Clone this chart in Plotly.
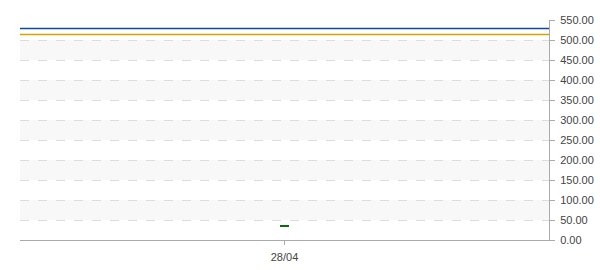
import plotly.graph_objects as go

# Data
dates = ["28/04"]
x_pos = [0]
open_vals = [33.0]
close_vals = [36.0]
line_blue_level = 529.0
line_gold_level = 514.0
y_ticks = [0, 50, 100, 150, 200, 250, 300, 350, 400, 450, 500, 550]
band_edges = [(50, 100), (150, 200), (250, 300), (350, 400), (450, 500)]

x_range = [-0.5, 0.5]

fig = go.Figure()

fig.add_trace(go.Scatter(x=x_range, y=[line_blue_level] * 2, mode="lines",
                         line=dict(color="#0b4a9e", width=1.5), hoverinfo="skip"))
fig.add_trace(go.Scatter(x=x_range, y=[line_gold_level] * 2, mode="lines",
                         line=dict(color="#d6a300", width=1.5), hoverinfo="skip"))
fig.add_trace(go.Bar(x=x_pos, base=open_vals,
                     y=[c - o for o, c in zip(open_vals, close_vals)],
                     width=0.017, marker=dict(color="#0a6e0a", line=dict(width=0))))

shapes = []
for y0, y1 in band_edges:
    shapes.append(dict(type="rect", xref="paper", yref="y", x0=0, x1=1, y0=y0, y1=y1,
                       fillcolor="#f8f8f8", line=dict(width=0), layer="below"))

fig.update_layout(
    width=600, height=270,
    margin=dict(l=20, r=51, t=20, b=30, autoexpand=False),
    paper_bgcolor="white", plot_bgcolor="white",
    showlegend=False,
    shapes=shapes,
    font=dict(family="Liberation Sans, Arial, sans-serif", size=11, color="#444444"),
    xaxis=dict(range=x_range, tickvals=x_pos, ticktext=dates, showgrid=False,
               showline=True, linecolor="#aaaaaa", linewidth=1, automargin=False,
               ticks="outside", ticklen=4, tickcolor="#aaaaaa", zeroline=False,
               ticklabelstandoff=3, fixedrange=True),
    yaxis=dict(range=[0, 550], tickvals=y_ticks, tickformat=".2f", side="right",
               showline=True, linecolor="#aaaaaa", linewidth=1, automargin=False,
               ticks="outside", ticklen=5, tickcolor="#aaaaaa", ticklabelstandoff=3,
               showgrid=True, gridcolor="#dddddd", griddash="dash", gridwidth=1,
               zeroline=False, fixedrange=True),
)

fig.write_html("out.html")
